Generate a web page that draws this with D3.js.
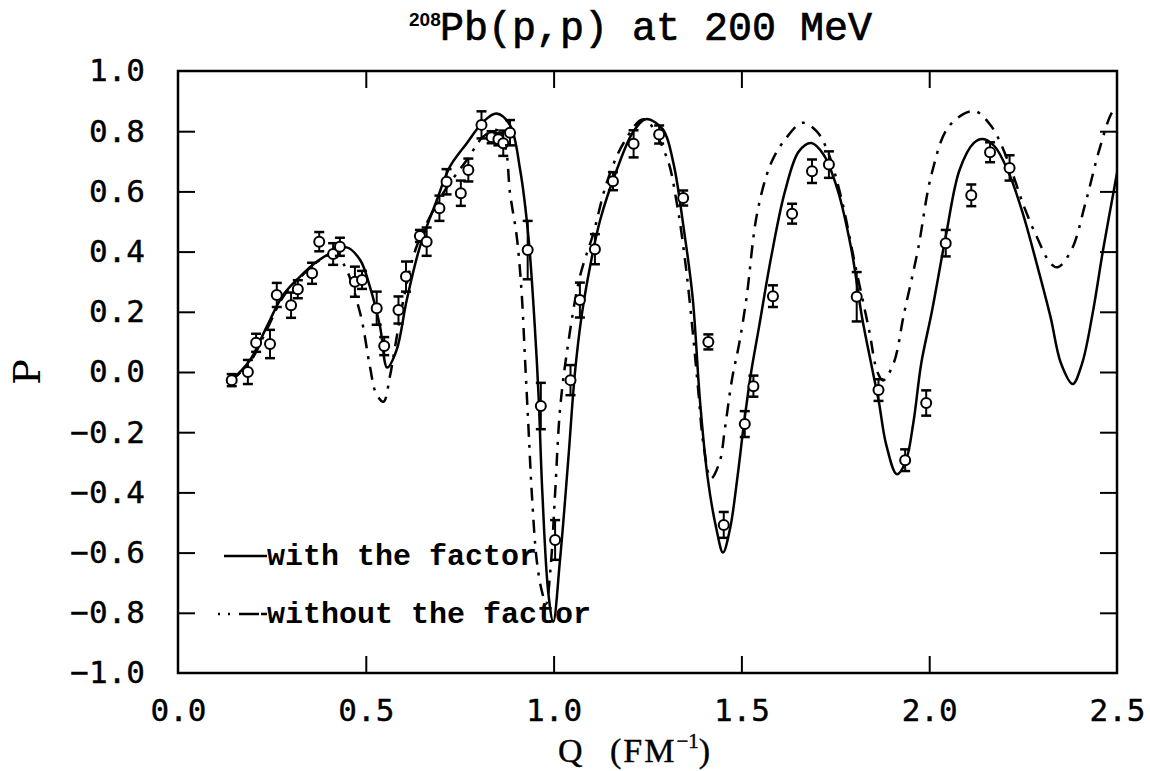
<!DOCTYPE html>
<html>
<head>
<meta charset="utf-8">
<script src="https://cdn.jsdelivr.net/npm/d3@7"></script>
<style>
  body { margin: 0; background: #fff; }
  text { fill: #000; }
</style>
</head>
<body>
<div id="chart"></div>
<script>
// measured points: Q (fm^-1), polarization P, error
var qData = [0.143, 0.186, 0.208, 0.245, 0.263, 0.301, 0.319, 0.357, 0.376, 0.413, 0.431, 0.471, 0.490,
  0.529, 0.549, 0.587, 0.607, 0.644, 0.662, 0.696, 0.715, 0.753, 0.773, 0.808, 0.835, 0.853, 0.866, 0.884,
  0.931, 0.966, 1.004, 1.045, 1.070, 1.110, 1.158, 1.213, 1.281, 1.345, 1.412, 1.453, 1.509, 1.532, 1.584,
  1.635, 1.688, 1.733, 1.807, 1.865, 1.936, 1.992, 2.044, 2.112, 2.162, 2.214];
var pData = [-0.027, 0.000, 0.097, 0.093, 0.256, 0.222, 0.275, 0.328, 0.433, 0.392, 0.416, 0.300, 0.306,
  0.212, 0.086, 0.206, 0.317, 0.452, 0.433, 0.544, 0.632, 0.594, 0.671, 0.821, 0.780, 0.773, 0.760, 0.795,
  0.405, -0.113, -0.558, -0.027, 0.239, 0.408, 0.634, 0.758, 0.789, 0.578, 0.100, -0.508, -0.173, -0.047, 0.252,
  0.526, 0.667, 0.689, 0.250, -0.060, -0.293, -0.103, 0.428, 0.587, 0.730, 0.678];
var errData = [0.02, 0.04, 0.03, 0.047, 0.04, 0.042, 0.03, 0.035, 0.032, 0.036, 0.03, 0.05, 0.03,
  0.055, 0.03, 0.045, 0.05, 0.02, 0.047, 0.042, 0.042, 0.042, 0.038, 0.045, 0.02, 0.02, 0.042, 0.042,
  0.097, 0.077, 0.066, 0.05, 0.058, 0.05, 0.03, 0.045, 0.03, 0.025, 0.025, 0.043, 0.043, 0.035, 0.036,
  0.033, 0.039, 0.044, 0.082, 0.036, 0.036, 0.042, 0.044, 0.036, 0.033, 0.042];

// calculation "with the factor" (solid)
var withQ = [0.14, 0.192, 0.236, 0.28, 0.325, 0.369, 0.414, 0.449, 0.485, 0.511, 0.538, 0.557, 0.582, 0.609,
  0.644, 0.689, 0.724, 0.769, 0.813, 0.848, 0.884, 0.911, 0.933, 0.95, 0.96, 0.97, 0.986, 0.999, 1.017, 1.039,
  1.057, 1.075, 1.097, 1.124, 1.168, 1.212, 1.246, 1.291, 1.319, 1.347, 1.37, 1.39, 1.41, 1.433, 1.451, 1.47,
  1.489, 1.507, 1.526, 1.547, 1.579, 1.616, 1.653, 1.686, 1.719, 1.756, 1.793, 1.821, 1.849, 1.866, 1.886,
  1.914, 1.937, 1.958, 1.979, 2.007, 2.044, 2.081, 2.119, 2.142, 2.174, 2.212, 2.249, 2.286, 2.323, 2.351,
  2.382, 2.407, 2.435, 2.463, 2.5];
var withP = [-0.03, 0.04, 0.15, 0.256, 0.317, 0.366, 0.40, 0.414, 0.372, 0.283, 0.15, 0.015, 0.073, 0.239,
  0.416, 0.571, 0.682, 0.76, 0.832, 0.859, 0.82, 0.671, 0.449, 0.15, -0.08, -0.40, -0.735, -0.83, -0.625, -0.292,
  0.0, 0.19, 0.35, 0.505, 0.671, 0.798, 0.84, 0.806, 0.694, 0.472, 0.25, -0.1, -0.35, -0.519, -0.6, -0.519,
  -0.354, -0.17, 0.0, 0.15, 0.38, 0.60, 0.733, 0.761, 0.722, 0.606, 0.406, 0.183, 0.006, -0.1, -0.244,
  -0.34, -0.299, -0.167, 0.03, 0.2, 0.45, 0.672, 0.761, 0.774, 0.75, 0.661, 0.528, 0.361, 0.183, 0.028,
  -0.04, 0.028, 0.194, 0.406, 0.661];

// calculation "without the factor" (dash-dot)
var withoutQ = [0.14, 0.19, 0.24, 0.28, 0.33, 0.37, 0.41, 0.44, 0.485, 0.511, 0.527, 0.547, 0.564, 0.578,
  0.6, 0.635, 0.706, 0.769, 0.813, 0.848, 0.871, 0.884, 0.902, 0.915, 0.924, 0.933, 0.942, 0.955, 0.968,
  0.98, 0.992, 1.004, 1.017, 1.035, 1.07, 1.106, 1.141, 1.186, 1.24, 1.3, 1.328, 1.351, 1.37, 1.385, 1.40,
  1.419, 1.442, 1.456, 1.475, 1.495, 1.514, 1.542, 1.579, 1.616, 1.663, 1.7, 1.728, 1.765, 1.802, 1.84,
  1.862, 1.877, 1.905, 1.933, 1.97, 2.007, 2.053, 2.119, 2.165, 2.212, 2.249, 2.286, 2.323, 2.342, 2.379,
  2.416, 2.453, 2.486, 2.5];
var withoutP = [-0.03, 0.03, 0.15, 0.25, 0.32, 0.365, 0.39, 0.36, 0.195, 0.018, -0.07, -0.099, -0.016, 0.084,
  0.239, 0.416, 0.594, 0.704, 0.782, 0.804, 0.749, 0.594, 0.449, 0.261, 0.04, -0.182, -0.403, -0.625, -0.724,
  -0.77, -0.65, -0.403, -0.126, 0.062, 0.317, 0.461, 0.627, 0.76, 0.84, 0.717, 0.561, 0.361, 0.139, -0.06, -0.25,
  -0.354, -0.299, -0.189, -0.024, 0.1, 0.25, 0.528, 0.694, 0.772, 0.828, 0.8, 0.739, 0.583, 0.361, 0.139,
  0.0, -0.028, 0.028, 0.194, 0.406, 0.661, 0.817, 0.867, 0.817, 0.694, 0.561, 0.45, 0.361, 0.348, 0.406,
  0.561, 0.739, 0.861, 0.88];

var xTicks = [0, 0.5, 1.0, 1.5, 2.0, 2.5];
var yTicks = [-1.0, -0.8, -0.6, -0.4, -0.2, 0.0, 0.2, 0.4, 0.6, 0.8, 1.0];

var width = 1150, height = 771;
var plot = { left: 178, right: 1117, top: 71, bottom: 673 };

var svg = d3.select("#chart").append("svg")
  .attr("width", width)
  .attr("height", height);

var x = d3.scaleLinear().domain([0, 2.5]).range([plot.left, plot.right]);
var y = d3.scaleLinear().domain([-1, 1]).range([plot.bottom, plot.top]);

svg.append("clipPath").attr("id", "clip")
  .append("rect")
  .attr("x", plot.left).attr("y", plot.top)
  .attr("width", plot.right - plot.left).attr("height", plot.bottom - plot.top);

var tickLen = 17;
var fmt = d3.format(".1f");
var labelFont = "'DejaVu Sans Mono', monospace";

// frame + inward ticks on all four sides
svg.append("g")
  .attr("transform", "translate(0," + plot.bottom + ")")
  .call(d3.axisBottom(x).tickValues(xTicks).tickSizeInner(-tickLen).tickSizeOuter(0).tickFormat(fmt).tickPadding(26))
  .call(function(g) {
    g.select(".domain").remove();
    g.selectAll("line").attr("stroke-width", 2).filter(function(d) { return d == 0 || d == 2.5; }).remove();
    g.selectAll("text").attr("font-family", labelFont).attr("font-size", 31).attr("fill", "#000")
      .attr("stroke", "#000").attr("stroke-width", 0.4);
  });
svg.append("g")
  .attr("transform", "translate(0," + plot.top + ")")
  .call(d3.axisTop(x).tickValues(xTicks.slice(1, -1)).tickSizeInner(-tickLen).tickSizeOuter(0).tickFormat(""))
  .call(function(g) { g.select(".domain").remove(); g.selectAll("line").attr("stroke-width", 2); });
svg.append("g")
  .attr("transform", "translate(" + plot.left + ",0)")
  .call(d3.axisLeft(y).tickValues(yTicks).tickSizeInner(-tickLen).tickSizeOuter(0).tickFormat(fmt).tickPadding(33))
  .call(function(g) {
    g.select(".domain").remove();
    g.selectAll("line").attr("stroke-width", 2).filter(function(d) { return Math.abs(d) == 1; }).remove();
    g.selectAll("text").attr("font-family", labelFont).attr("font-size", 31).attr("fill", "#000")
      .attr("stroke", "#000").attr("stroke-width", 0.4);
  });
svg.append("g")
  .attr("transform", "translate(" + plot.right + ",0)")
  .call(d3.axisRight(y).tickValues(yTicks.slice(1, -1)).tickSizeInner(-tickLen).tickSizeOuter(0).tickFormat(""))
  .call(function(g) { g.select(".domain").remove(); g.selectAll("line").attr("stroke-width", 2); });

svg.append("rect")
  .attr("x", plot.left).attr("y", plot.top)
  .attr("width", plot.right - plot.left).attr("height", plot.bottom - plot.top)
  .attr("fill", "none").attr("stroke", "#000").attr("stroke-width", 2.5);

// curves
var line = d3.line()
  .x(function(d) { return x(d[0]); })
  .y(function(d) { return y(d[1]); })
  .curve(d3.curveCatmullRom.alpha(0.5));

var curves = svg.append("g").attr("clip-path", "url(#clip)");
curves.append("path")
  .datum(d3.zip(withQ, withP))
  .attr("d", line)
  .attr("fill", "none").attr("stroke", "#000").attr("stroke-width", 2.5);
curves.append("path")
  .datum(d3.zip(withoutQ, withoutP))
  .attr("d", line)
  .attr("fill", "none").attr("stroke", "#000").attr("stroke-width", 2.5)
  .attr("stroke-dasharray", "13,8,3,8");

// data with error bars
var pts = svg.append("g").selectAll("g")
  .data(d3.range(qData.length))
  .enter().append("g")
  .attr("stroke", "#000").attr("stroke-width", 2).attr("fill", "none");
pts.append("line")
  .attr("x1", function(i) { return x(qData[i]); })
  .attr("x2", function(i) { return x(qData[i]); })
  .attr("y1", function(i) { return y(pData[i] - errData[i]); })
  .attr("y2", function(i) { return y(pData[i] + errData[i]); });
[-1, 1].forEach(function(s) {
  pts.append("line")
    .attr("x1", function(i) { return x(qData[i]) - 5; })
    .attr("x2", function(i) { return x(qData[i]) + 5; })
    .attr("y1", function(i) { return y(pData[i] + s * errData[i]); })
    .attr("y2", function(i) { return y(pData[i] + s * errData[i]); })
    .attr("stroke-width", 2.5);
});
pts.append("circle")
  .attr("cx", function(i) { return x(qData[i]); })
  .attr("cy", function(i) { return y(pData[i]); })
  .attr("r", 5)
  .attr("fill", "#fff");

// legend
var legFont = "'Liberation Mono', monospace";
svg.append("line")
  .attr("x1", 224).attr("x2", 267).attr("y1", 556).attr("y2", 556)
  .attr("stroke", "#000").attr("stroke-width", 2.5);
svg.append("text").attr("x", 267).attr("y", 565)
  .attr("font-family", legFont).attr("font-size", 30).attr("font-weight", "bold")
  .text("with the factor");
svg.append("line")
  .attr("x1", 218).attr("x2", 267).attr("y1", 614).attr("y2", 614)
  .attr("stroke", "#000").attr("stroke-width", 2.5)
  .attr("stroke-dasharray", "2,8,2,9,20");
svg.append("text").attr("x", 267).attr("y", 623)
  .attr("font-family", legFont).attr("font-size", 30).attr("font-weight", "bold")
  .text("without the factor");

// title
var title = svg.append("text")
  .attr("font-family", legFont).attr("font-size", 40)
  .attr("stroke", "#000").attr("stroke-width", 0.7);
title.append("tspan").attr("x", 409).attr("y", 26)
  .attr("font-family", "'Liberation Sans', sans-serif").attr("font-weight", "bold").attr("font-size", 19)
  .attr("stroke-width", 0)
  .text("208");
title.append("tspan").attr("x", 440).attr("y", 40).text("Pb(p,p) at 200 MeV");

// axis titles
var xt = svg.append("text").attr("y", 762)
  .attr("font-family", "'Liberation Serif', serif").attr("font-size", 34)
  .attr("stroke", "#000").attr("stroke-width", 0.4);
xt.append("tspan").attr("x", 558).text("Q");
xt.append("tspan").attr("x", 610).attr("letter-spacing", 2).text("(FM");
xt.append("tspan").attr("font-size", 21).attr("dy", -14).text("\u22121");
xt.append("tspan").attr("dy", 14).text(")");

svg.append("text")
  .attr("transform", "translate(40,372) rotate(-90)")
  .attr("text-anchor", "middle")
  .attr("font-family", "'DejaVu Serif', serif").attr("font-size", 38)
  .text("P");
</script>
</body>
</html>
